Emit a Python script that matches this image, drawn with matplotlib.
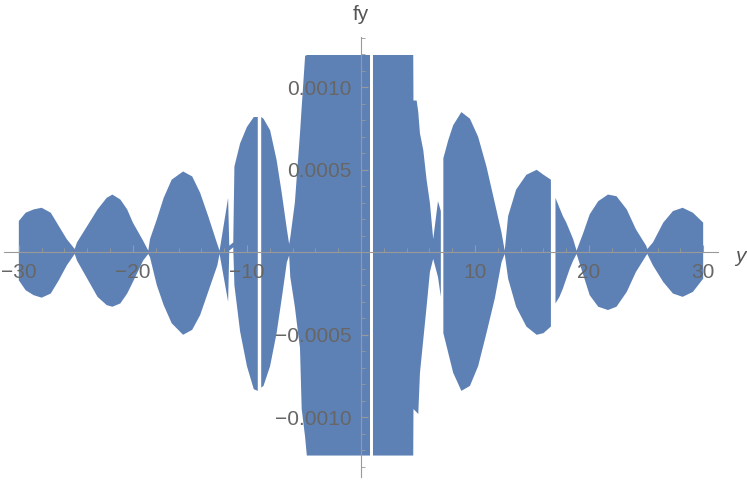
import numpy as np
import matplotlib
matplotlib.use("Agg")
import matplotlib.pyplot as plt
from matplotlib.ticker import FixedLocator, MultipleLocator

# envelope of fy (units of 1e-3); nan rows are white gaps
y_pts = [-30.0, -29.4, -28.7, -28.0, -27.2, -26.5, -25.8, -25.1, -24.9, -24.0,
         -23.1, -22.3, -21.8, -21.1, -20.5, -20.0, -19.1, -18.65, -18.5, -17.9,
         -17.3, -16.6, -15.6, -14.8, -14.1, -13.4, -12.6, -12.4, -11.65, -11.55,
         -11.2, -11.1, -10.6, -10.0, -9.4, -9.05, -8.9, -8.75, -8.55, -7.97,
         -7.4, -6.95, -6.5, -6.3, -6.2, -5.8, -5.5, -5.35, -5.2, -4.9,
         -4.75, 0.79, 0.92, 1.05, 4.58, 4.6, 4.88, 5.02, 5.17, 5.46,
         5.75, 6.04, 6.33, 6.75, 7.0, 7.1, 7.22, 7.65, 8.08, 8.8,
         9.55, 10.27, 11.0, 11.73, 12.32, 12.6, 12.9, 13.6, 14.5, 15.4,
         16.0, 16.65, 16.85, 17.05, 17.4, 17.7, 18.0, 18.3, 18.6, 18.9,
         19.5, 20.05, 20.8, 21.65, 22.4, 23.3, 24.1, 25.0, 25.1, 25.6,
         26.5, 27.35, 28.2, 29.1, 30.0]
upper = [0.19, 0.24, 0.26, 0.27, 0.24, 0.16, 0.08, 0.02, 0.06, 0.16,
         0.26, 0.33, 0.35, 0.32, 0.26, 0.18, 0.07, 0.01, 0.08, 0.20,
         0.33, 0.44, 0.49, 0.46, 0.36, 0.22, 0.05, 0.01, 0.33, 0.04,
         0.06, 0.52, 0.66, 0.76, 0.82, 0.82, np.nan, 0.82, 0.81, 0.74,
         0.56, 0.36, 0.14, 0.05, 0.09, 0.30, 0.58, 0.72, 0.88, 1.19,
         1.30, 1.30, np.nan, 1.30, 1.30, 0.92, 0.92, 0.85, 0.72, 0.62,
         0.44, 0.30, 0.08, 0.31, 0.25, np.nan, 0.57, 0.68, 0.77, 0.85,
         0.81, 0.70, 0.52, 0.30, 0.12, 0.01, 0.22, 0.38, 0.47, 0.50,
         0.47, 0.44, np.nan, 0.33, 0.27, 0.22, 0.18, 0.13, 0.08, 0.01,
         0.12, 0.23, 0.31, 0.35, 0.34, 0.26, 0.14, 0.04, 0.02, 0.06,
         0.18, 0.25, 0.27, 0.24, 0.18]
lower = [-0.17, -0.23, -0.26, -0.275, -0.25, -0.17, -0.08, -0.01, -0.05, -0.16,
         -0.27, -0.32, -0.33, -0.31, -0.25, -0.18, -0.05, -0.01, -0.03, -0.20,
         -0.32, -0.43, -0.50, -0.47, -0.38, -0.24, -0.08, -0.01, -0.30, 0.01,
         0.03, -0.20, -0.48, -0.69, -0.83, -0.84, np.nan, -0.82, -0.81, -0.69,
         -0.49, -0.28, -0.06, -0.02, -0.15, -0.33, -0.50, -0.58, -0.95, -1.12,
         -1.30, -1.30, np.nan, -1.30, -1.30, -0.95, -0.97, -0.98, -0.73, -0.53,
         -0.33, -0.12, -0.04, -0.15, -0.27, np.nan, -0.49, -0.61, -0.73, -0.84,
         -0.81, -0.69, -0.49, -0.28, -0.06, -0.01, -0.16, -0.33, -0.45, -0.50,
         -0.49, -0.45, np.nan, -0.31, -0.27, -0.22, -0.16, -0.10, -0.05, -0.01,
         -0.14, -0.26, -0.33, -0.35, -0.33, -0.24, -0.12, -0.02, -0.01, -0.08,
         -0.18, -0.25, -0.27, -0.24, -0.16]

x_ticks = [-30, -20, -10, 10, 20, 30]
y_ticks = [-0.0010, -0.0005, 0.0005, 0.0010]
y_tick_labels = ["\u22120.0010", "\u22120.0005", "0.0005", "0.0010"]
clip_lo, clip_hi = -0.001232, 0.001196

plt.rcParams['font.family'] = ['Liberation Sans', 'DejaVu Sans']

fig = plt.figure(figsize=(7.47, 4.80), dpi=100)
ax = fig.add_axes([4 / 747, 3 / 480, 714 / 747, 440 / 480])

yy = np.array(y_pts)
up = np.clip(np.array(upper) * 1e-3, clip_lo, clip_hi)
lo = np.clip(np.array(lower) * 1e-3, clip_lo, clip_hi)
ax.fill_between(yy, lo, up, color='#5e81b5', linewidth=0, zorder=1)

ax.set_xlim(-31.3, 31.3)
ax.set_ylim(-0.001362, 0.001305)

gray = '#999999'
for s in ['top', 'right']:
    ax.spines[s].set_visible(False)
ax.spines['left'].set_position(('data', 0))
ax.spines['bottom'].set_position(('data', 0))
ax.spines['left'].set_color(gray)
ax.spines['bottom'].set_color(gray)

ax.xaxis.set_major_locator(FixedLocator(x_ticks))
ax.xaxis.set_minor_locator(MultipleLocator(2))
ax.yaxis.set_major_locator(FixedLocator(y_ticks))
ax.yaxis.set_minor_locator(MultipleLocator(0.0001))
ax.set_yticklabels(y_tick_labels)
ax.tick_params(which='both', direction='in', color=gray, labelcolor='#666666',
               labelsize=15)
ax.tick_params(which='major', length=5, width=0.8)
ax.tick_params(which='minor', length=3, width=0.6)
ax.tick_params(axis='x', pad=8)
ax.tick_params(axis='y', pad=7)

fig.text(740 / 747, 1 - 256 / 480, 'y', fontsize=15, style='italic',
         color='#555555', ha='center', va='center')
fig.text(361 / 747, 1 - 14 / 480, 'fy', fontsize=15, color='#555555',
         ha='center', va='center')

fig.savefig('out.png', dpi=100)
